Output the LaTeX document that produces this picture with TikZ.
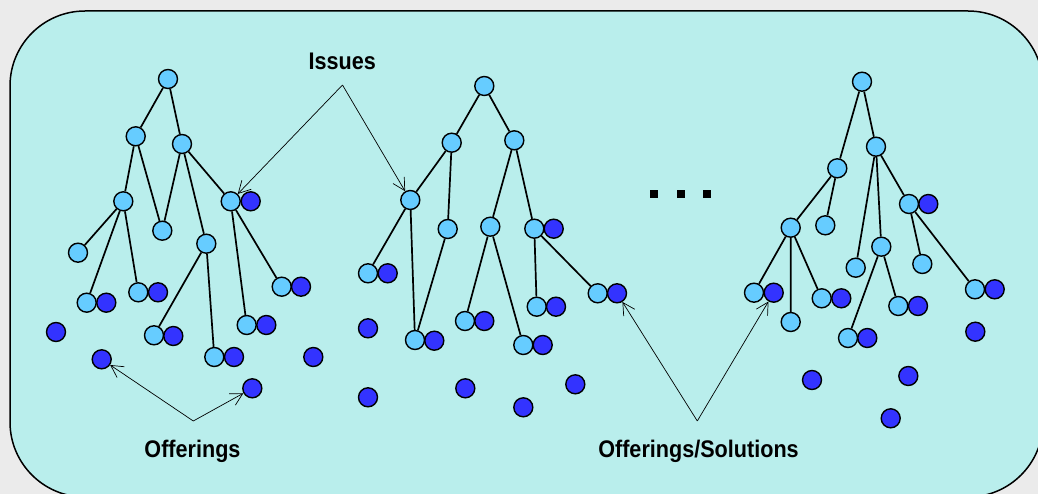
\documentclass[tikz,border=0pt]{standalone}
\usepackage{fontspec}
\usetikzlibrary{arrows.meta}
\newfontfamily\labfont[FakeStretch=0.9]{Liberation Sans}
\definecolor{outergray}{RGB}{235,235,235}
\definecolor{panel}{RGB}{185,238,236}
\definecolor{issuec}{RGB}{102,204,255}
\definecolor{offerc}{RGB}{51,51,255}
\tikzset{
  iss/.style={circle,draw=black,line width=1.4pt,fill=issuec,minimum size=19pt,inner sep=0pt},
  off/.style={circle,draw=black,line width=1.4pt,fill=offerc,minimum size=19pt,inner sep=0pt},
  tree/.style={draw=black,line width=1.7pt},
  arr/.style={draw=black,line width=0.7pt,-{Straight Barb[length=12pt,width=13pt,line width=0.7pt]}},
  lab/.style={font=\labfont\bfseries\fontsize{24}{28}\selectfont,anchor=base,inner sep=0pt},
  dotsq/.style={fill=black,minimum size=8pt,inner sep=0pt,draw=none}
}
\begin{document}
\begin{tikzpicture}[x=1pt,y=-1pt]
\useasboundingbox (0,0) rectangle (1038,494);
\fill[outergray] (0,0) rectangle (1038,494);
\begin{scope}
\clip (0,0) rectangle (1038,494);
\draw[fill=panel,line width=1.5pt,rounded corners=75pt] (10,11) rectangle (1043,497);
\end{scope}

% ---------------- Tree 1 ----------------
\node[iss] (a0) at (168,79) {};
\node[iss] (a1) at (135.7,136.3) {};
\node[iss] (a2) at (182,144) {};
\node[iss] (aA) at (123.3,201.3) {};
\node[iss] (aB) at (162.3,230.7) {};
\node[iss] (aC) at (206.3,243.7) {};
\node[iss] (aD) at (230.7,201.3) {};
\node[off] (aDo) at (250.7,201.3) {};
\node[iss] (aE) at (78,252.7) {};
\node[iss] (aF) at (86.7,302.7) {};
\node[off] (aFo) at (106.3,302.7) {};
\node[iss] (aG) at (138.3,292.3) {};
\node[off] (aGo) at (158,292.3) {};
\node[iss] (aH) at (154,335.3) {};
\node[off] (aHo) at (173.3,336) {};
\node[iss] (aI) at (214.3,357) {};
\node[off] (aIo) at (234,357) {};
\node[iss] (aJ) at (246.7,325) {};
\node[off] (aJo) at (266.3,325) {};
\node[iss] (aK) at (281.7,286.7) {};
\node[off] (aKo) at (301,286.7) {};
\node[off] (ax1) at (56,332) {};
\node[off] (ax2) at (101.7,359.3) {};
\node[off] (ax3) at (313.3,357) {};
\node[off] (ax4) at (252.3,388.3) {};
\draw[tree] (a0)--(a1) (a0)--(a2) (a1)--(aA) (a1)--(aB) (a2)--(aB) (a2)--(aC) (a2)--(aD)
  (aA)--(aE) (aA)--(aF) (aA)--(aG) (aC)--(aH) (aC)--(aI) (aD)--(aJ) (aD)--(aK);

% ---------------- Tree 2 ----------------
\node[iss] (b0) at (484.3,86) {};
\node[iss] (b1) at (451.7,142.7) {};
\node[iss] (b2) at (514.3,140.3) {};
\node[iss] (bA) at (410.3,200) {};
\node[iss] (bB) at (447.7,229) {};
\node[iss] (bC) at (490.3,226.7) {};
\node[iss] (bD) at (534.3,228.7) {};
\node[off] (bDo) at (553.7,228.7) {};
\node[iss] (bE) at (368,273.3) {};
\node[off] (bEo) at (387.7,273.3) {};
\node[iss] (bF) at (415,340) {};
\node[off] (bFo) at (434.3,340.7) {};
\node[iss] (bG) at (465,321) {};
\node[off] (bGo) at (484.3,321) {};
\node[iss] (bH) at (523.3,345) {};
\node[off] (bHo) at (542.7,345) {};
\node[iss] (bI) at (536.7,306.7) {};
\node[off] (bIo) at (556,306.7) {};
\node[iss] (bJ) at (597.7,293.3) {};
\node[off] (bJo) at (617,293.3) {};
\node[off] (bx1) at (368,328.3) {};
\node[off] (bx2) at (368,397.3) {};
\node[off] (bx3) at (465.3,388.3) {};
\node[off] (bx4) at (523.3,407.3) {};
\node[off] (bx5) at (575.3,384.3) {};
\draw[tree] (b0)--(b1) (b0)--(b2) (b1)--(bA) (b1)--(bB) (b2)--(bC) (b2)--(bD)
  (bA)--(bE) (bA)--(bF) (bB)--(bF) (bC)--(bG) (bC)--(bH) (bD)--(bI) (bD)--(bJ);

% ---------------- Tree 3 ----------------
\node[iss] (c0) at (862,81.7) {};
\node[iss] (c1) at (837.3,168.3) {};
\node[iss] (c2) at (876,146.7) {};
\node[iss] (cA) at (790.7,227.7) {};
\node[iss] (cB) at (825.3,225.3) {};
\node[iss] (cC) at (754,292.7) {};
\node[off] (cCo) at (773.7,292.7) {};
\node[iss] (cD) at (790.7,322) {};
\node[iss] (cE) at (821.7,298.3) {};
\node[off] (cEo) at (841.3,298.3) {};
\node[iss] (cF) at (855.7,267.7) {};
\node[iss] (cG) at (881.3,246.7) {};
\node[iss] (cH) at (909,204) {};
\node[off] (cHo) at (928.3,204) {};
\node[iss] (cI) at (848,338) {};
\node[off] (cIo) at (867.3,338) {};
\node[iss] (cJ) at (898.3,306) {};
\node[off] (cJo) at (918,306) {};
\node[iss] (cK) at (922.3,264) {};
\node[iss] (cL) at (975,289.3) {};
\node[off] (cLo) at (994.7,289.3) {};
\node[off] (cx1) at (975.3,331.7) {};
\node[off] (cx2) at (812,380) {};
\node[off] (cx3) at (908.3,376) {};
\node[off] (cx4) at (890.7,418.3) {};
\draw[tree] (c0)--(c1) (c0)--(c2) (c1)--(cA) (c1)--(cB) (cA)--(cC) (cA)--(cD) (cA)--(cE)
  (c2)--(cF) (c2)--(cG) (c2)--(cH) (cG)--(cI) (cG)--(cJ) (cH)--(cK) (cH)--(cL);

% ---------------- dots ----------------
\node[dotsq] (d1) at (654,194) {};
\node[dotsq] (d2) at (680.7,194) {};
\node[dotsq] (d3) at (707,194) {};

% ---------------- labels and arrows ----------------
\node[lab] (issues) at (342.3,70) {Issues};
\node[lab] (offer) at (192.5,457) {Offerings};
\node[lab] (offsol) at (698.5,457) {Offerings/Solutions};
\coordinate (pI) at (342.5,85);
\coordinate (pO) at (193.3,421);
\coordinate (pS) at (697.3,421);
\draw[arr] (pI) -- (aD);
\draw[arr] (pI) -- (bA);
\draw[arr] (pO) -- (ax2);
\draw[arr] (pO) -- (ax4);
\draw[arr] (pS) -- (bJo);
\draw[arr] (pS) -- (cCo);
\end{tikzpicture}
\end{document}
